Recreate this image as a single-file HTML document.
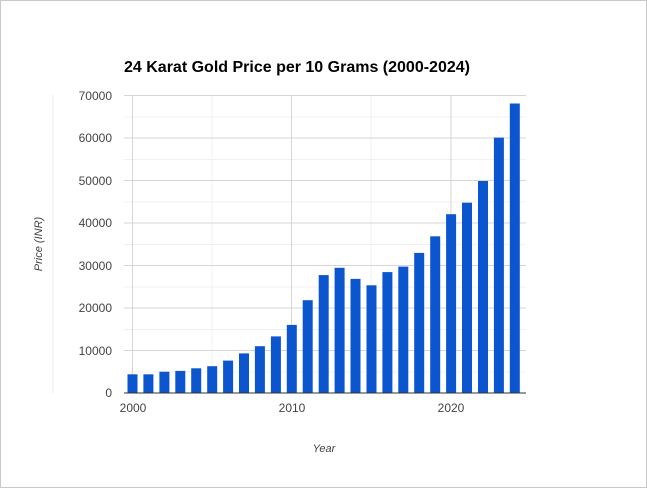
<!DOCTYPE html>
<html><head><style>body{margin:0;background:#fff}</style></head><body>
<svg width="647" height="488" xmlns="http://www.w3.org/2000/svg" font-family="Liberation Sans, Arial, sans-serif">
<rect x="0.5" y="0.5" width="646" height="487" fill="#fff" stroke="#c8c8c8"/>
<text x="124" y="72" font-size="16" font-weight="bold" fill="#000">24 Karat Gold Price per 10 Grams (2000-2024)</text>
<line x1="53" y1="95" x2="53" y2="393" stroke="#e8e8e8"/>
<g stroke="#f0f0f0">
<line x1="124" x2="526" y1="372" y2="372"/><line x1="124" x2="526" y1="329.5" y2="329.5"/><line x1="124" x2="526" y1="287" y2="287"/><line x1="124" x2="526" y1="244.5" y2="244.5"/><line x1="124" x2="526" y1="202" y2="202"/><line x1="124" x2="526" y1="159.5" y2="159.5"/><line x1="124" x2="526" y1="117" y2="117"/>
<line x1="212" x2="212" y1="95" y2="393"/><line x1="371" x2="371" y1="95" y2="393"/>
</g>
<g stroke="#d6d6d6">
<line x1="124" x2="526" y1="350.5" y2="350.5"/><line x1="124" x2="526" y1="308" y2="308"/><line x1="124" x2="526" y1="265.5" y2="265.5"/><line x1="124" x2="526" y1="223" y2="223"/><line x1="124" x2="526" y1="180.5" y2="180.5"/><line x1="124" x2="526" y1="138" y2="138"/><line x1="124" x2="526" y1="95.5" y2="95.5"/>
<line x1="132.5" x2="132.5" y1="95" y2="393"/><line x1="291.5" x2="291.5" y1="95" y2="393"/><line x1="451" x2="451" y1="95" y2="393"/>
</g>
<g fill="#0b55cf">
<rect x="127.5" y="374.3" width="10" height="18.7"/>
<rect x="143.4" y="374.3" width="10" height="18.7"/>
<rect x="159.4" y="371.7" width="10" height="21.3"/>
<rect x="175.3" y="370.9" width="10" height="22.1"/>
<rect x="191.2" y="368.3" width="10" height="24.7"/>
<rect x="207.2" y="366.2" width="10" height="26.8"/>
<rect x="223.1" y="360.6" width="10" height="32.4"/>
<rect x="239.0" y="353.4" width="10" height="39.6"/>
<rect x="254.9" y="346.2" width="10" height="46.8"/>
<rect x="270.9" y="336.4" width="10" height="56.6"/>
<rect x="286.8" y="324.9" width="10" height="68.1"/>
<rect x="302.7" y="300.2" width="10" height="92.8"/>
<rect x="318.7" y="275.1" width="10" height="117.9"/>
<rect x="334.6" y="267.8" width="10" height="125.2"/>
<rect x="350.5" y="278.9" width="10" height="114.1"/>
<rect x="366.5" y="285.3" width="10" height="107.7"/>
<rect x="382.4" y="272.1" width="10" height="120.9"/>
<rect x="398.3" y="266.6" width="10" height="126.4"/>
<rect x="414.2" y="252.9" width="10" height="140.1"/>
<rect x="430.2" y="236.3" width="10" height="156.7"/>
<rect x="446.1" y="214.2" width="10" height="178.8"/>
<rect x="462.0" y="202.7" width="10" height="190.3"/>
<rect x="478.0" y="181.0" width="10" height="212.0"/>
<rect x="493.9" y="137.6" width="10" height="255.4"/>
<rect x="509.8" y="103.5" width="10" height="289.5"/>
</g>
<line x1="124" x2="526" y1="393" y2="393" stroke="#333"/>
<g font-size="12" fill="#444" text-anchor="end">
<text x="112" y="397">0</text><text x="112" y="355">10000</text><text x="112" y="312">20000</text><text x="112" y="270">30000</text><text x="112" y="227">40000</text><text x="112" y="185">50000</text><text x="112" y="142">60000</text><text x="112" y="100">70000</text>
</g>
<g font-size="12" fill="#444" text-anchor="middle">
<text x="133" y="412">2000</text><text x="292" y="412">2010</text><text x="451" y="412">2020</text>
</g>
<text x="324" y="452" font-size="11" font-style="italic" fill="#444" text-anchor="middle">Year</text>
<text transform="translate(42,244) rotate(-90)" font-size="11" font-style="italic" fill="#444" text-anchor="middle">Price (INR)</text>
</svg>
</body></html>
